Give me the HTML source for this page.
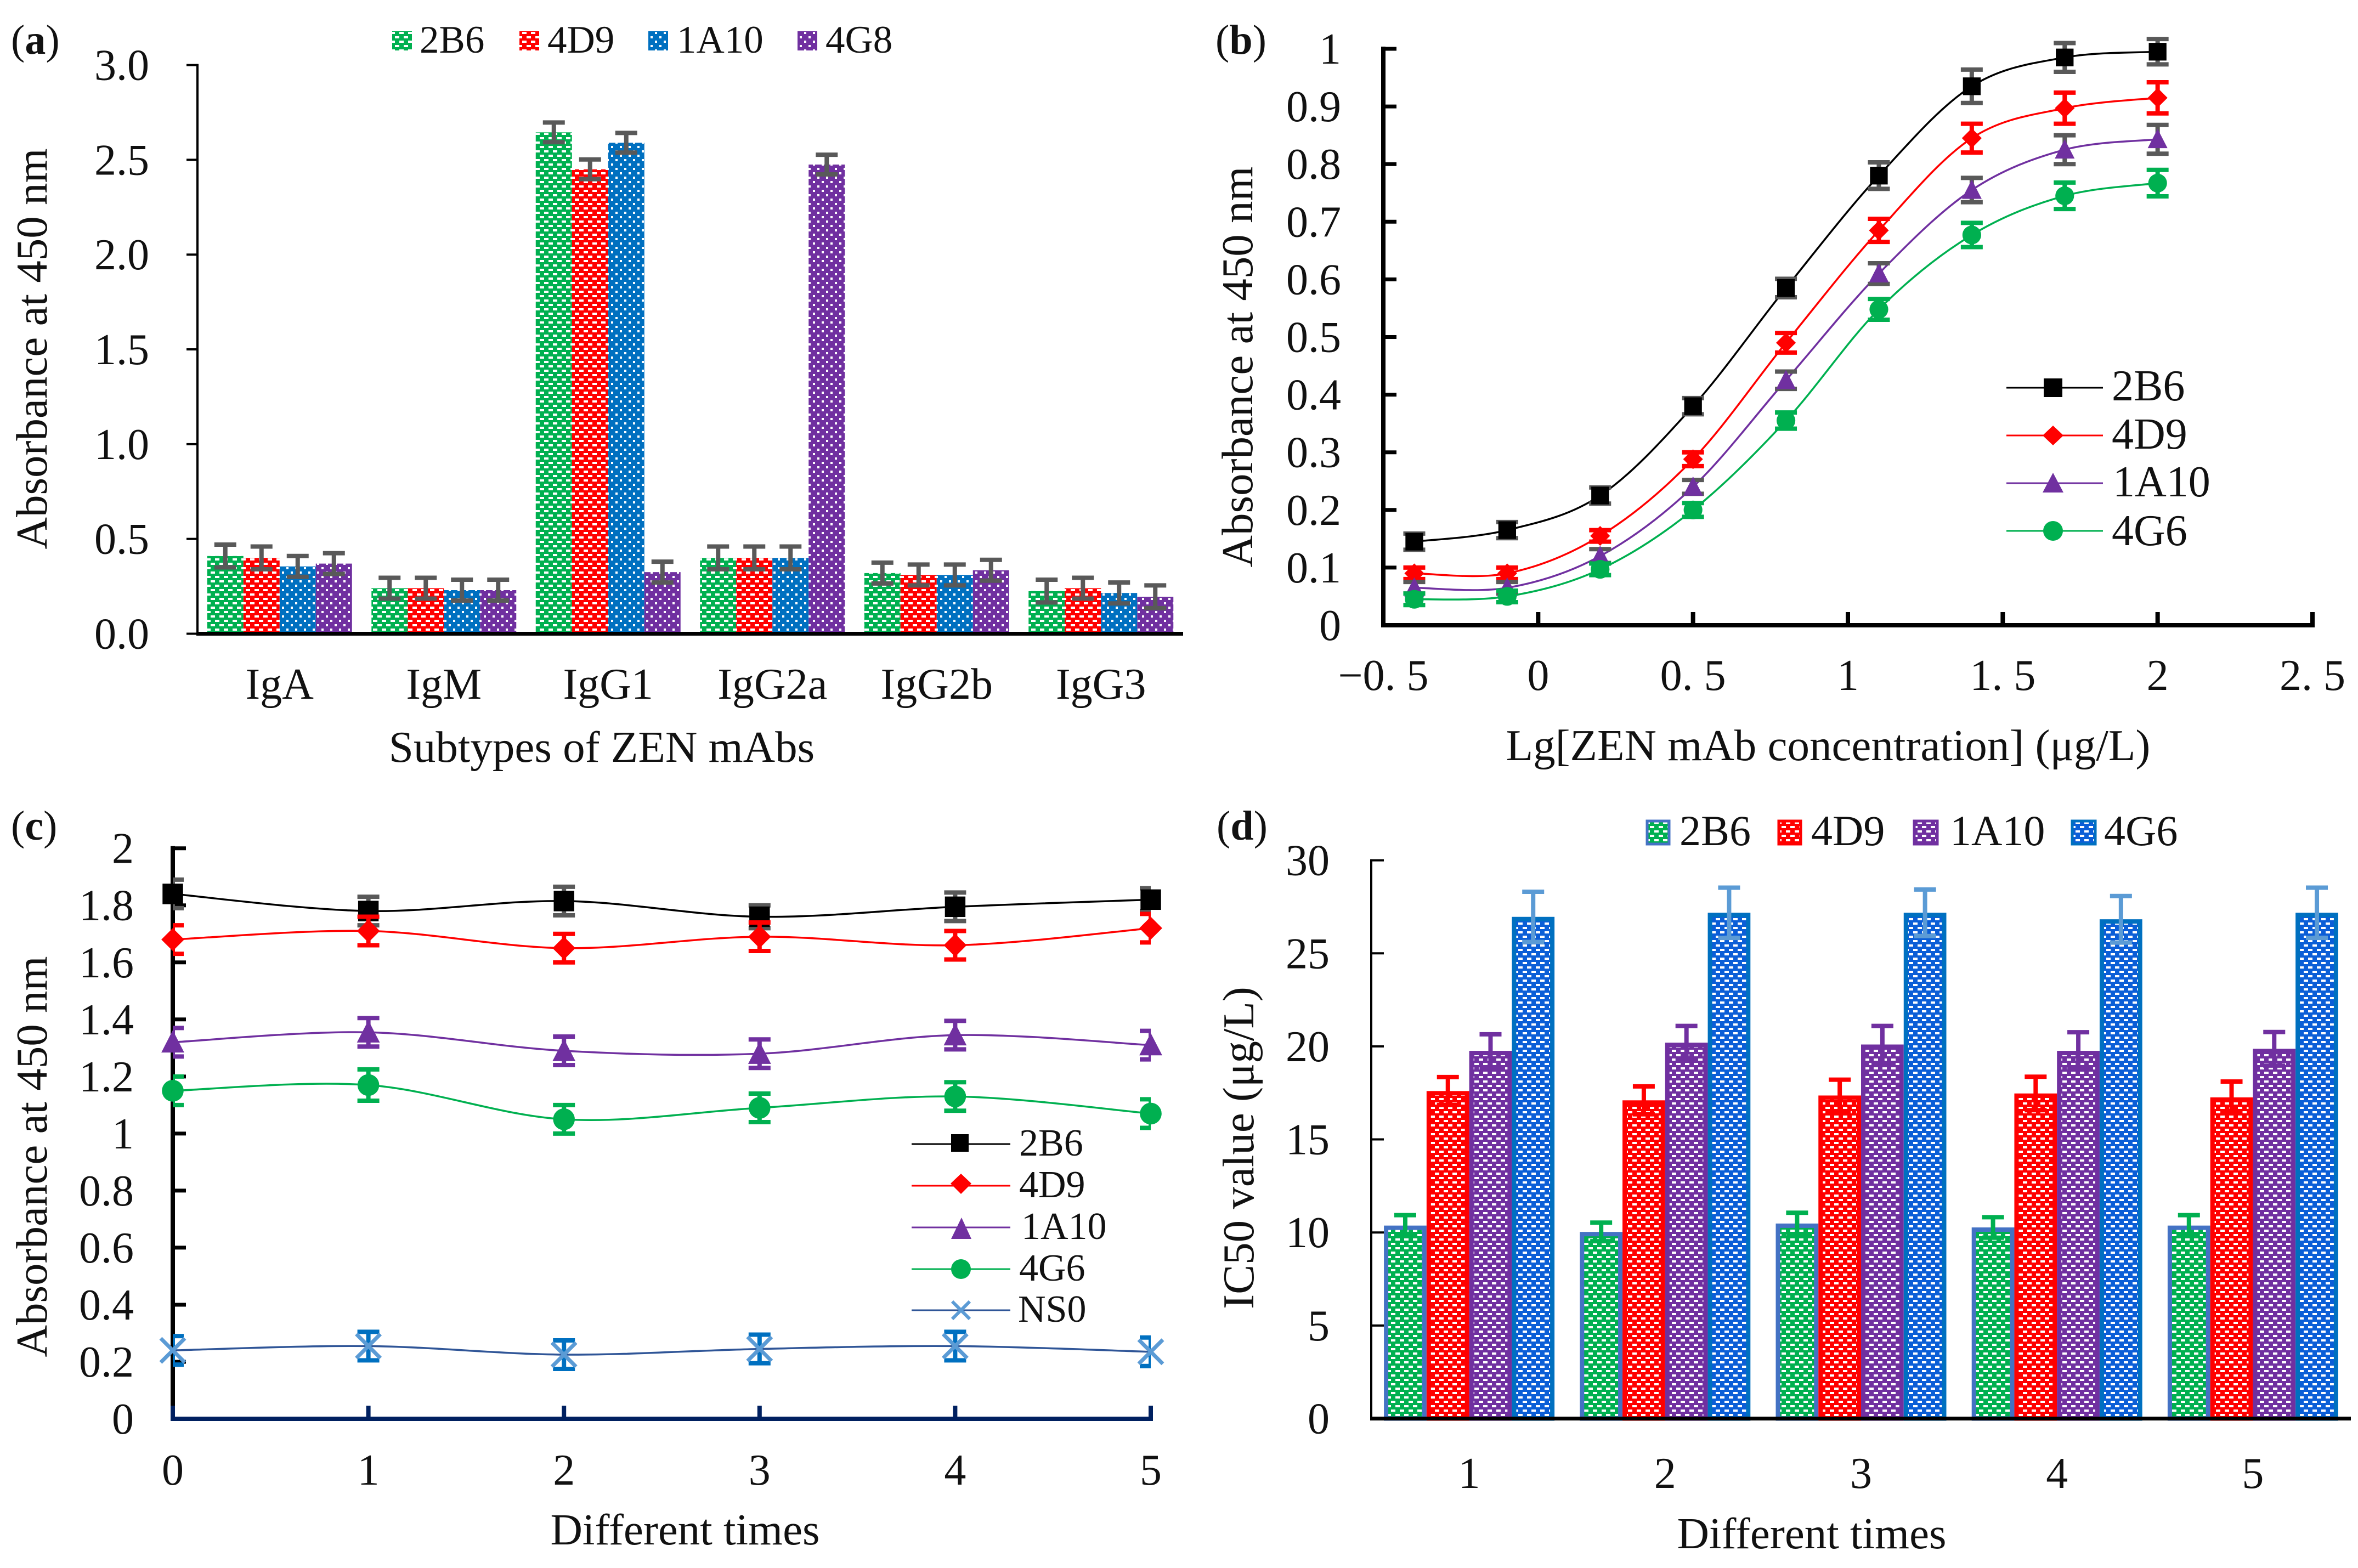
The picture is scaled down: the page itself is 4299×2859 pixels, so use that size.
<!DOCTYPE html>
<html lang="en">
<head>
<meta charset="utf-8">
<title>ZEN mAb characterisation charts</title>
<style>
html,body{margin:0;padding:0;background:#fff;}
svg{display:block;}
text{font-family:"Liberation Serif","Times New Roman",serif;fill:#111;}
</style>
</head>
<body>
<svg id="fig" xmlns="http://www.w3.org/2000/svg" width="4299" height="2859" viewBox="0 0 4299 2859">
<defs>
<pattern id="dash-green" patternUnits="userSpaceOnUse" width="16" height="16"><rect width="16" height="16" fill="#00b050"/><rect x="0" y="2" width="8" height="4" fill="#fff"/><rect x="8" y="10" width="8" height="4" fill="#fff"/></pattern>
<pattern id="dash-red" patternUnits="userSpaceOnUse" width="16" height="16"><rect width="16" height="16" fill="#ff0000"/><rect x="0" y="2" width="8" height="4" fill="#fff"/><rect x="8" y="10" width="8" height="4" fill="#fff"/></pattern>
<pattern id="dot-blue" patternUnits="userSpaceOnUse" width="16" height="16"><rect width="16" height="16" fill="#0070c0"/><rect x="2" y="2" width="4" height="4" fill="#fff"/><rect x="10" y="10" width="4" height="4" fill="#fff"/></pattern>
<pattern id="dot-purple" patternUnits="userSpaceOnUse" width="16" height="16"><rect width="16" height="16" fill="#7030a0"/><rect x="2" y="2" width="4" height="4" fill="#fff"/><rect x="10" y="10" width="4" height="4" fill="#fff"/></pattern>
<pattern id="dash-blue" patternUnits="userSpaceOnUse" width="16" height="16"><rect width="16" height="16" fill="#0b5ed7"/><rect x="0" y="2" width="8" height="4" fill="#fff"/><rect x="8" y="10" width="8" height="4" fill="#fff"/></pattern>
<pattern id="dash-purple" patternUnits="userSpaceOnUse" width="16" height="16"><rect width="16" height="16" fill="#7030a0"/><rect x="0" y="2" width="8" height="4" fill="#fff"/><rect x="8" y="10" width="8" height="4" fill="#fff"/></pattern>
<clipPath id="panel-c-plot-clip"><rect x="315" y="1400" width="1783" height="1300"/></clipPath>
</defs>

<!-- Panel labels -->
<text x="20" y="98" font-size="76">(<tspan font-weight="bold">a</tspan>)</text>
<text x="2216" y="98" font-size="76">(<tspan font-weight="bold">b</tspan>)</text>
<text x="20" y="1531" font-size="76">(<tspan font-weight="bold">c</tspan>)</text>
<text x="2218" y="1531" font-size="76">(<tspan font-weight="bold">d</tspan>)</text>

<!-- Axis titles -->
<text font-size="81" text-anchor="middle" transform="translate(85,636) rotate(-90)">Absorbance at 450 nm</text>
<text font-size="81" text-anchor="middle" x="1097" y="1389">Subtypes of ZEN mAbs</text>
<text font-size="81" text-anchor="middle" transform="translate(2283,669) rotate(-90)">Absorbance at 450 nm</text>
<text font-size="81" text-anchor="middle" x="3333" y="1386">Lg[ZEN mAb concentration] (μg/L)</text>
<text font-size="81" text-anchor="middle" transform="translate(85,2109) rotate(-90)">Absorbance at 450 nm</text>
<text font-size="81" text-anchor="middle" x="1249" y="2816">Different times</text>
<text font-size="81" text-anchor="middle" transform="translate(2285,2093) rotate(-90)">IC50 value (μg/L)</text>
<text font-size="81" text-anchor="middle" x="3303" y="2823">Different times</text>

<!-- Legend a -->
<g>
<rect x="715" y="57" width="36" height="35" fill="url(#dash-green)"/>
<text x="765" y="96" font-size="71">2B6</text>
<rect x="947" y="57" width="36" height="35" fill="url(#dash-red)"/>
<text x="998" y="96" font-size="71">4D9</text>
<rect x="1182" y="57" width="36" height="35" fill="url(#dot-blue)"/>
<text x="1234" y="96" font-size="71">1A10</text>
<rect x="1454" y="57" width="36" height="35" fill="url(#dot-purple)"/>
<text x="1505" y="96" font-size="71">4G8</text>
</g>

<!-- Legend b -->
<g>
<line x1="3658" x2="3834" y1="707" y2="707" stroke="#000" stroke-width="3"/>
<rect x="3726" y="690" width="34" height="34" fill="#000"/>
<text x="3850" y="730" font-size="80">2B6</text>
<line x1="3658" x2="3834" y1="794" y2="794" stroke="#f00" stroke-width="3"/>
<polygon points="3743,776 3762,794 3743,812 3724,794" fill="#f00"/>
<text x="3850" y="818" font-size="80">4D9</text>
<line x1="3658" x2="3834" y1="881" y2="881" stroke="#7030a0" stroke-width="3"/>
<polygon points="3743,862 3762,898 3724,898" fill="#7030a0"/>
<text x="3852" y="905" font-size="80">1A10</text>
<line x1="3658" x2="3834" y1="968" y2="968" stroke="#00b050" stroke-width="3"/>
<circle cx="3743" cy="968" r="18" fill="#00b050"/>
<text x="3850" y="994" font-size="80">4G6</text>
</g>

<!-- Legend c -->
<g>
<line x1="1662" x2="1842" y1="2086" y2="2086" stroke="#000" stroke-width="3"/>
<rect x="1734" y="2068" width="32" height="32" fill="#000"/>
<text x="1858" y="2107" font-size="70">2B6</text>
<line x1="1662" x2="1842" y1="2162" y2="2162" stroke="#f00" stroke-width="3"/>
<polygon points="1752,2140 1771,2158 1752,2177 1733,2158" fill="#f00"/>
<text x="1858" y="2183" font-size="70">4D9</text>
<line x1="1662" x2="1842" y1="2238" y2="2238" stroke="#7030a0" stroke-width="3"/>
<polygon points="1753,2220 1771,2259 1734,2259" fill="#7030a0"/>
<text x="1862" y="2259" font-size="70">1A10</text>
<line x1="1662" x2="1842" y1="2314" y2="2314" stroke="#00b050" stroke-width="3"/>
<circle cx="1752" cy="2314" r="18" fill="#00b050"/>
<text x="1858" y="2335" font-size="70">4G6</text>
<line x1="1662" x2="1842" y1="2389" y2="2389" stroke="#2f5597" stroke-width="3"/>
<path d="M1736,2373 L1768,2405 M1768,2373 L1736,2405" stroke="#5b9bd5" stroke-width="6" fill="none"/>
<text x="1856" y="2410" font-size="70">NS0</text>
</g>

<!-- Legend d -->
<g>
<rect x="3003" y="1497" width="40" height="42" fill="url(#dash-green)" stroke="#4472c4" stroke-width="5"/>
<text x="3062" y="1541" font-size="78">2B6</text>
<rect x="3243" y="1497" width="40" height="42" fill="url(#dash-red)" stroke="#f00" stroke-width="5"/>
<text x="3302" y="1541" font-size="78">4D9</text>
<rect x="3490" y="1497" width="42" height="42" fill="url(#dash-purple)" stroke="#7030a0" stroke-width="5"/>
<text x="3555" y="1541" font-size="78">1A10</text>
<rect x="3778" y="1497" width="42" height="42" fill="url(#dash-blue)" stroke="#0070c0" stroke-width="5"/>
<text x="3836" y="1541" font-size="78">4G6</text>
</g>

<g id="panel-a"></g>
<g id="panel-b"></g>
<g id="panel-c"></g>
<g id="panel-d"></g>
</svg>

<script>
// ---------- Panel (a) data ----------
const aCategories = ['IgA','IgM','IgG1','IgG2a','IgG2b','IgG3'];
const aYTicks = ['0.0','0.5','1.0','1.5','2.0','2.5','3.0'];
const a2B6 = [0.41,0.24,2.645,0.40,0.32,0.225];
const a4D9 = [0.40,0.24,2.45,0.40,0.31,0.24];
const a1A10 = [0.355,0.23,2.59,0.40,0.31,0.215];
const a4G8 = [0.37,0.23,0.325,2.475,0.335,0.195];
const a2B6Err = [0.06,0.055,0.052,0.06,0.055,0.06];
const a4D9Err = [0.06,0.055,0.052,0.06,0.055,0.055];
const a1A10Err = [0.055,0.055,0.052,0.06,0.055,0.055];
const a4G8Err = [0.055,0.055,0.055,0.052,0.055,0.06];

// ---------- Panel (b) data ----------
const bXValues = [-0.4,-0.1,0.2,0.5,0.8,1.1,1.4,1.7,2.0];
const bXTicks = ['-0.5','0','0.5','1','1.5','2','2.5'];
const bYTicks = ['0','0.1','0.2','0.3','0.4','0.5','0.6','0.7','0.8','0.9','1'];
const b2B6 = [0.145,0.165,0.225,0.38,0.585,0.78,0.935,0.985,0.995];
const b4D9 = [0.09,0.09,0.155,0.288,0.49,0.685,0.845,0.897,0.915];
const b1A10 = [0.065,0.065,0.12,0.24,0.425,0.61,0.755,0.825,0.843];
const b4G6 = [0.045,0.05,0.097,0.2,0.355,0.548,0.677,0.745,0.767];
const b2B6Err = [0.014,0.014,0.014,0.014,0.016,0.023,0.029,0.025,0.022];
const b4D9Err = [0.01,0.01,0.01,0.012,0.017,0.02,0.025,0.027,0.027];
const b1A10Err = [0.01,0.01,0.012,0.012,0.015,0.018,0.021,0.025,0.025];
const b4G6Err = [0.01,0.01,0.01,0.012,0.014,0.018,0.021,0.023,0.023];

// ---------- Panel (c) data ----------
const cXValues = [0,1,2,3,4,5];
const cXTicks = ['0','1','2','3','4','5'];
const cYTicks = ['0','0.2','0.4','0.6','0.8','1','1.2','1.4','1.6','1.8','2'];
const c2B6 = [1.84,1.78,1.815,1.76,1.795,1.82];
const c4D9 = [1.68,1.71,1.65,1.69,1.66,1.72];
const c1A10 = [1.32,1.355,1.29,1.28,1.345,1.31];
const c4G6 = [1.15,1.17,1.05,1.09,1.13,1.07];
const cNS0 = [0.24,0.255,0.225,0.245,0.255,0.235];
const c2B6Err = [0.05,0.05,0.05,0.04,0.05,0.04];
const c4D9Err = [0.05,0.05,0.05,0.05,0.05,0.05];
const c1A10Err = [0.05,0.05,0.05,0.05,0.05,0.05];
const c4G6Err = [0.05,0.055,0.05,0.05,0.05,0.05];
const cNS0Err = [0.05,0.05,0.05,0.05,0.05,0.05];

// ---------- Panel (d) data ----------
const dCategories = ['1','2','3','4','5'];
const dYTicks = ['0','5','10','15','20','25','30'];
const d2B6 = [10.37,10.03,10.48,10.27,10.37];
const d4D9 = [17.6,17.1,17.36,17.47,17.26];
const d1A10 = [19.76,20.2,20.1,19.76,19.87];
const d4G6 = [26.96,27.18,27.18,26.83,27.18];
const d2B6Err = [0.56,0.5,0.58,0.55,0.56];
const d4D9Err = [0.75,0.75,0.85,0.9,0.85];
const d1A10Err = [0.89,0.9,1.0,1.0,0.9];
const d4G6Err = [1.35,1.35,1.25,1.25,1.35];

// ---------- Helpers ----------
const NS = 'http://www.w3.org/2000/svg';
function make(tag, attrs, parent) {
  const el = document.createElementNS(NS, tag);
  for (const k in attrs) el.setAttribute(k, attrs[k]);
  parent.appendChild(el);
  return el;
}
function linear(d0, d1, r0, r1) {
  return v => r0 + (v - d0) / (d1 - d0) * (r1 - r0);
}
function key(s) { return String(s).toLowerCase().replace(/[^a-z0-9]+/g, '-'); }

function drawLineAxis(parent, prefix, x1, y1, x2, y2, color, width) {
  const l = make('line', {x1, y1, x2, y2, stroke: color, 'stroke-width': width}, parent);
  
  
}
function drawYTicks(parent, prefix, labels, y, axisX, dir, tickLen, tickW, labelRight, fontSize) {
  labels.forEach(lab => {
    const v = parseFloat(lab);
    const t = make('line', {x1: axisX, x2: axisX + dir * tickLen, y1: y(v), y2: y(v), stroke: '#000', 'stroke-width': tickW}, parent);
    
    
    const tx = make('text', {x: labelRight, y: y(v) + 27, 'font-size': fontSize, 'text-anchor': 'end'}, parent);
    tx.textContent = lab;
    
    
  });
}
function drawError(parent, name, cx, yTop, yBot, color, capW, thick, clipId) {
  const g = make('path', {
    d: 'M' + (cx - capW / 2) + ',' + yTop + 'H' + (cx + capW / 2) +
       'M' + cx + ',' + yTop + 'V' + yBot +
       'M' + (cx - capW / 2) + ',' + yBot + 'H' + (cx + capW / 2),
    stroke: color, 'stroke-width': thick, fill: 'none'
  }, parent);
  if (clipId) g.setAttribute('clip-path', 'url(#' + clipId + ')');
  
  
}
function drawMarker(parent, name, shape, x, y, color, k) {
  let m;
  if (shape === 'square') {
    m = make('rect', {x: x - 17 * k, y: y - 17 * k, width: 34 * k, height: 34 * k, fill: color}, parent);
  } else if (shape === 'diamond') {
    m = make('polygon', {points: [x, y - 19 * k, x + 19 * k, y, x, y + 19 * k, x - 19 * k, y].join(','), fill: color}, parent);
  } else if (shape === 'triangle') {
    m = make('polygon', {points: [x, y - 20 * k, x + 19 * k, y + 17 * k, x - 19 * k, y + 17 * k].join(','), fill: color}, parent);
  } else if (shape === 'circle') {
    m = make('circle', {cx: x, cy: y, r: 18 * k, fill: color}, parent);
  } else {
    m = make('path', {d: 'M' + (x - 20 * k) + ',' + (y - 20 * k) + 'L' + (x + 20 * k) + ',' + (y + 20 * k) + 'M' + (x + 20 * k) + ',' + (y - 20 * k) + 'L' + (x - 20 * k) + ',' + (y + 20 * k), stroke: color, 'stroke-width': 7, fill: 'none'}, parent);
  }
  
  
}
function smoothPath(pts) {
  let d = 'M' + pts[0][0] + ',' + pts[0][1];
  for (let i = 0; i < pts.length - 1; i++) {
    const p0 = pts[Math.max(0, i - 1)], p1 = pts[i], p2 = pts[i + 1], p3 = pts[Math.min(pts.length - 1, i + 2)];
    const c1x = p1[0] + (p2[0] - p0[0]) / 6, c1y = p1[1] + (p2[1] - p0[1]) / 6;
    const c2x = p2[0] - (p3[0] - p1[0]) / 6, c2y = p2[1] - (p3[1] - p1[1]) / 6;
    d += 'C' + c1x + ',' + c1y + ' ' + c2x + ',' + c2y + ' ' + p2[0] + ',' + p2[1];
  }
  return d;
}
function drawLineSeries(parent, prefix, s, xs, xScale, yScale, markerScale, clipId) {
  const pts = xs.map((xv, i) => [xScale(xv), yScale(s.values[i])]);
  const path = make('path', {d: smoothPath(pts), fill: 'none', stroke: s.line, 'stroke-width': 3.5}, parent);
  
  
  xs.forEach((xv, i) => {
    drawError(parent, prefix + '-error-' + key(s.name) + '-' + i, pts[i][0],
      yScale(s.values[i] + s.err[i]), yScale(s.values[i] - s.err[i]), s.errColor, 40, 8, clipId);
  });
  xs.forEach((xv, i) => {
    drawMarker(parent, prefix + '-point-' + key(s.name) + '-' + i, s.shape, pts[i][0], pts[i][1], s.marker, markerScale);
  });
}

// ---------- Panel (a) ----------
(function () {
  const p = document.getElementById('panel-a');
  const y = linear(0, 3, 1155.5, 118.6);
  const axisX = 360, plotW = 1797, band = plotW / aCategories.length, barW = 66;
  const series = [
    {name: '2B6', values: a2B6, err: a2B6Err, fill: 'url(#dash-green)'},
    {name: '4D9', values: a4D9, err: a4D9Err, fill: 'url(#dash-red)'},
    {name: '1A10', values: a1A10, err: a1A10Err, fill: 'url(#dot-blue)'},
    {name: '4G8', values: a4G8, err: a4G8Err, fill: 'url(#dot-purple)'}
  ];
  aCategories.forEach((cat, c) => {
    const left = axisX + band * c + band / 2 - barW * series.length / 2;
    series.forEach((s, i) => {
      const r = make('rect', {x: left + i * barW, y: y(s.values[c]), width: barW, height: y(0) - y(s.values[c]), fill: s.fill}, p);
      
      
    });
    series.forEach((s, i) => {
      drawError(p, 'error-bar-' + key(cat) + '-' + key(s.name), left + i * barW + barW / 2,
        y(s.values[c] + s.err[c]), y(s.values[c] - s.err[c]), '#595959', 40, 8);
    });
    const t = make('text', {x: axisX + band * c + band / 2, y: 1274, 'font-size': 80, 'text-anchor': 'middle'}, p);
    t.textContent = cat;
    
    
  });
  drawLineAxis(p, 'y-axis', axisX, y(3) - 2, axisX, y(0), '#000', 4);
  drawLineAxis(p, 'x-axis', axisX - 2, y(0), axisX + plotW, y(0), '#000', 7);
  drawYTicks(p, 'panel-a', aYTicks, y, axisX, -1, 20, 4, 272, 80);
})();

// ---------- Panel (b) ----------
(function () {
  const p = document.getElementById('panel-b');
  const x = linear(-0.5, 2.5, 2522, 4216);
  const y = linear(0, 1, 1140, 89);
  bXTicks.forEach(lab => {
    const v = parseFloat(lab);
    const t = make('line', {x1: x(v), x2: x(v), y1: y(0), y2: y(0) - 24, stroke: '#000', 'stroke-width': 8}, p);
    
    
    const tx = make('text', {x: x(v), y: 1258, 'font-size': 80, 'text-anchor': 'middle', 'xml:space': 'preserve'}, p);
    tx.textContent = lab.replace('-', '\u2212').replace('.', '. ');
    
    
  });
  drawLineAxis(p, 'y-axis', x(-0.5), y(1) - 4, x(-0.5), y(0) + 4, '#000', 8);
  drawLineAxis(p, 'x-axis', x(-0.5) - 4, y(0), x(2.5) + 4, y(0), '#000', 8);
  drawYTicks(p, 'panel-b', bYTicks, y, x(-0.5), 1, 24, 7, 2445, 80);
  const series = [
    {name: '2B6', values: b2B6, err: b2B6Err, line: '#000', marker: '#000', errColor: '#595959', shape: 'square'},
    {name: '4D9', values: b4D9, err: b4D9Err, line: '#f00', marker: '#f00', errColor: '#f00', shape: 'diamond'},
    {name: '1A10', values: b1A10, err: b1A10Err, line: '#7030a0', marker: '#7030a0', errColor: '#595959', shape: 'triangle'},
    {name: '4G6', values: b4G6, err: b4G6Err, line: '#00b050', marker: '#00b050', errColor: '#00b050', shape: 'circle'}
  ];
  series.forEach(s => drawLineSeries(p, 'panel-b', s, bXValues, x, y, 0.95));
})();

// ---------- Panel (c) ----------
(function () {
  const p = document.getElementById('panel-c');
  const x = linear(0, 5, 315, 2098);
  const y = linear(0, 2, 2587, 1546.7);
  drawLineAxis(p, 'y-axis', x(0), y(2) - 4, x(0), y(0), '#000', 8);
  drawYTicks(p, 'panel-c', cYTicks, y, x(0), 1, 24, 7, 244, 80);
  cXTicks.forEach(lab => {
    const v = parseFloat(lab);
    const t = make('line', {x1: x(v), x2: x(v), y1: y(0), y2: y(0) - 24, stroke: '#002060', 'stroke-width': 8}, p);
    
    
    const tx = make('text', {x: x(v), y: 2707, 'font-size': 80, 'text-anchor': 'middle'}, p);
    tx.textContent = lab;
    
    
  });
  drawLineAxis(p, 'x-axis', x(0) - 4, y(0), x(5) + 4, y(0), '#002060', 8);
  const series = [
    {name: '2B6', values: c2B6, err: c2B6Err, line: '#000', marker: '#000', errColor: '#595959', shape: 'square'},
    {name: '4D9', values: c4D9, err: c4D9Err, line: '#f00', marker: '#f00', errColor: '#f00', shape: 'diamond'},
    {name: '1A10', values: c1A10, err: c1A10Err, line: '#7030a0', marker: '#7030a0', errColor: '#7030a0', shape: 'triangle'},
    {name: '4G6', values: c4G6, err: c4G6Err, line: '#00b050', marker: '#00b050', errColor: '#00b050', shape: 'circle'},
    {name: 'NS0', values: cNS0, err: cNS0Err, line: '#2f5597', marker: '#5b9bd5', errColor: '#0070c0', shape: 'x'}
  ];
  series.forEach(s => drawLineSeries(p, 'panel-c', s, cXValues, x, y, 1.1, 'panel-c-plot-clip'));
})();

// ---------- Panel (d) ----------
(function () {
  const p = document.getElementById('panel-d');
  const y = linear(0, 30, 2586.5, 1568.6);
  const axisX = 2500, plotW = 1786, band = plotW / dCategories.length, barW = 77.75, stroke = 8;
  const series = [
    {name: '2B6', values: d2B6, err: d2B6Err, fill: 'url(#dash-green)', edge: '#4472c4', errColor: '#00b050'},
    {name: '4D9', values: d4D9, err: d4D9Err, fill: 'url(#dash-red)', edge: '#ff0000', errColor: '#ff0000'},
    {name: '1A10', values: d1A10, err: d1A10Err, fill: 'url(#dash-purple)', edge: '#7030a0', errColor: '#7030a0'},
    {name: '4G6', values: d4G6, err: d4G6Err, fill: 'url(#dash-blue)', edge: '#0070c0', errColor: '#5b9bd5'}
  ];
  dCategories.forEach((cat, c) => {
    const left = axisX + band * c + band / 2 - barW * series.length / 2;
    series.forEach((s, i) => {
      const r = make('rect', {
        x: left + i * barW + stroke / 2, y: y(s.values[c]) + stroke / 2,
        width: barW - stroke, height: y(0) - y(s.values[c]) - stroke / 2,
        fill: s.fill, stroke: s.edge, 'stroke-width': stroke
      }, p);
      
      
    });
    series.forEach((s, i) => {
      drawError(p, 'error-bar-time-' + key(cat) + '-' + key(s.name), left + i * barW + barW / 2,
        y(s.values[c] + s.err[c]), y(s.values[c] - s.err[c]), s.errColor, 40, 8);
    });
    const t = make('text', {x: axisX + band * c + band / 2, y: 2713, 'font-size': 80, 'text-anchor': 'middle'}, p);
    t.textContent = cat;
    
    
  });
  drawLineAxis(p, 'y-axis', axisX, y(30) - 2, axisX, y(0), '#000', 4);
  drawLineAxis(p, 'x-axis', axisX - 2, y(0), axisX + plotW, y(0), '#000', 7);
  drawYTicks(p, 'panel-d', dYTicks, y, axisX, 1, 23, 4, 2424, 80);
})();
</script>
</body>
</html>
